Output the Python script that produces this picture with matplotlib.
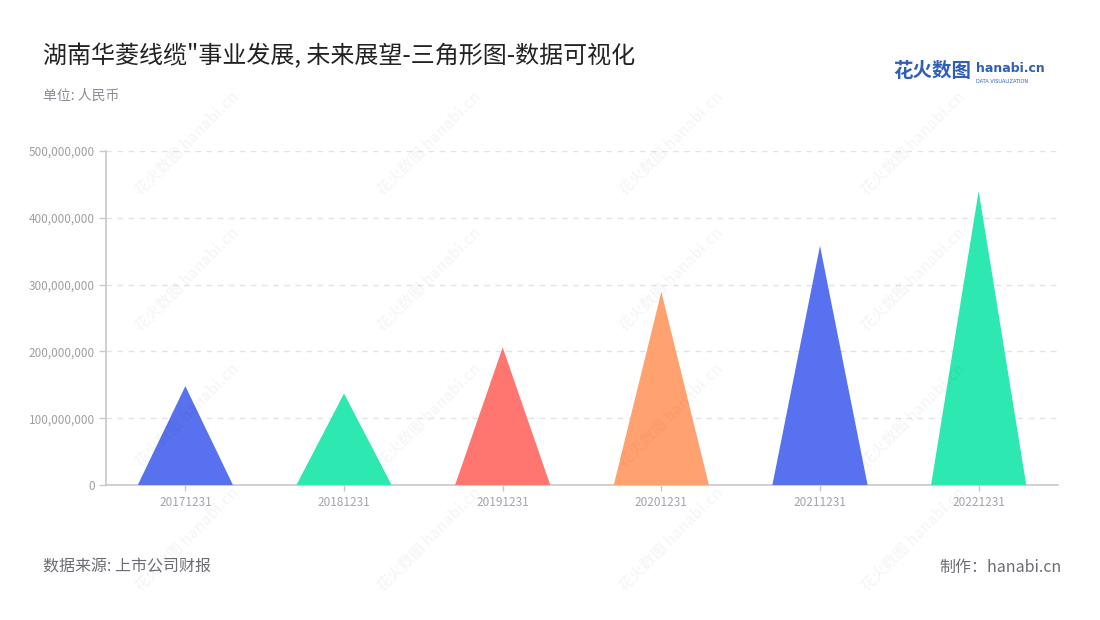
import matplotlib
matplotlib.use("Agg")
from matplotlib import pyplot as plt
from matplotlib.ticker import FuncFormatter
import numpy as np

plt.rcParams['font.family'] = ['Noto Sans CJK SC', 'DejaVu Sans']

# data
years = ['20171231', '20181231', '20191231', '20201231', '20211231', '20221231']
values = [148000000, 137000000, 206000000, 289000000, 358000000, 440000000]
colors = ['#5871EE', '#2EE8B1', '#FF7570', '#FFA26F', '#5871EE', '#2EE8B1']
yticks = [0, 100000000, 200000000, 300000000, 400000000, 500000000]

fig = plt.figure(figsize=(11, 6.2), dpi=100)
ax = fig.add_axes([0.0964, 0.2177, 0.8654, 0.5388])

half = 0.3
for i, (v, c) in enumerate(zip(values, colors)):
    ax.fill([i - half, i, i + half], [0, v, 0], color=c, linewidth=0, zorder=3)

ax.set_xlim(-0.5, len(years) - 0.5)
ax.set_ylim(0, 500000000)
ax.set_xticks(range(len(years)))
ax.set_xticklabels(years)
ax.set_yticks(yticks)
ax.yaxis.set_major_formatter(FuncFormatter(lambda v, p: f'{int(v):,}'))
ax.tick_params(axis='x', colors='#c8c8c8', labelcolor='#a0a4b0', labelsize=8.5, length=4, width=1, pad=4)
ax.tick_params(axis='y', colors='#c8c8c8', labelcolor='#a0a0a0', labelsize=8.5, length=5, width=1, pad=3)
ax.grid(axis='y', color='#e2e2e2', linestyle=(0, (4, 4)), linewidth=1, zorder=0)
for s in ['top', 'right']:
    ax.spines[s].set_visible(False)
ax.spines['left'].set_color('#c8c8c8')
ax.spines['bottom'].set_color('#c8c8c8')
ax.spines['left'].set_linewidth(1.2)
ax.spines['bottom'].set_linewidth(1.2)

# watermarks
for wx in [0.17, 0.39, 0.61, 0.83]:
    for wy in [0.77, 0.55, 0.33, 0.13]:
        fig.text(wx, wy, '花火数图 hanabi.cn', fontsize=11, color='#000000', alpha=0.035,
                 rotation=45, ha='center', va='center', fontweight='bold')

fig.text(0.039, 0.91, '湖南华菱线缆"事业发展, 未来展望-三角形图-数据可视化', fontsize=17.3,
         color='#222222', va='center')
fig.text(0.039, 0.846, '单位: 人民币', fontsize=10, color='#8c8c96', va='center')
fig.text(0.039, 0.085, '数据来源: 上市公司财报', fontsize=11.5, color='#6c6c74', va='center')
fig.text(0.965, 0.085, '制作：hanabi.cn', fontsize=11.5, color='#6c6c74', va='center', ha='right')

# logo
fig.text(0.812, 0.884, '花火数图', fontsize=14, color='#2f5fb8', va='center', fontweight='bold')
fig.text(0.887, 0.889, 'hanabi.cn', fontsize=9, color='#2f5fb8', va='center', fontweight='bold',
         family=['DejaVu Sans'])
fig.text(0.887, 0.868, 'DATA VISUALIZATION', fontsize=3.6, color='#2f5fb8', va='center',
         family=['DejaVu Sans'])

fig.savefig('out.png', dpi=100, facecolor='white')
